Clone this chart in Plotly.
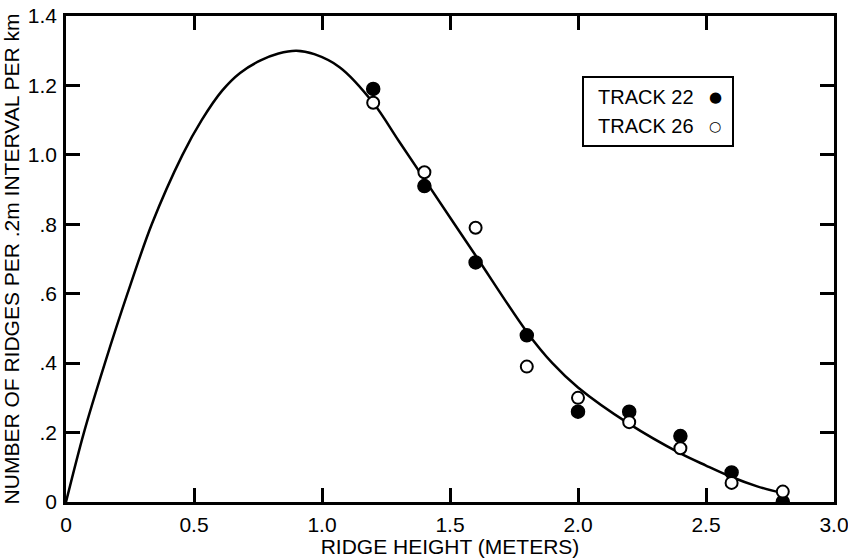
import plotly.graph_objects as go

# ---- data ----
heights = [1.2, 1.4, 1.6, 1.8, 2.0, 2.2, 2.4, 2.6, 2.8]
track22 = [1.19, 0.91, 0.69, 0.48, 0.26, 0.26, 0.19, 0.085, 0.0]
track26 = [1.15, 0.95, 0.79, 0.39, 0.30, 0.23, 0.155, 0.055, 0.03]

curve_x = [0.0, 0.07, 0.152, 0.24, 0.335, 0.455, 0.53, 0.61, 0.68, 0.76, 0.83,
           0.90, 0.97, 1.07, 1.2, 1.3, 1.4, 1.6, 1.8, 1.9, 2.0, 2.2, 2.4, 2.5,
           2.6, 2.7, 2.8]
curve_y = [0.0, 0.2, 0.4, 0.6, 0.8, 1.0, 1.10, 1.185, 1.236, 1.272, 1.292,
           1.30, 1.29, 1.252, 1.15, 1.04, 0.93, 0.71, 0.49, 0.40, 0.33, 0.225,
           0.14, 0.105, 0.072, 0.045, 0.025]

x_tickvals = [0, 0.5, 1.0, 1.5, 2.0, 2.5, 3.0]
x_ticktext = ["0", "0.5", "1.0", "1.5", "2.0", "2.5", "3.0"]
y_tickvals = [0, 0.2, 0.4, 0.6, 0.8, 1.0, 1.2, 1.4]
y_ticktext = ["0", ".2", ".4", ".6", ".8", "1.0", "1.2", "1.4"]

legend_names = ["TRACK 22", "TRACK 26"]

FONT = "Liberation Sans, Arial, sans-serif"
FS = 21

fig = go.Figure()
fig.add_trace(go.Scatter(x=curve_x, y=curve_y, mode="lines",
                         line=dict(color="black", width=2.5, shape="spline", smoothing=0.9),
                         showlegend=False, hoverinfo="skip"))
fig.add_trace(go.Scatter(x=heights, y=track22, mode="markers", name=legend_names[0],
                         marker=dict(symbol="circle", size=13, color="black",
                                     line=dict(color="black", width=1.5)),
                         showlegend=False))
fig.add_trace(go.Scatter(x=heights, y=track26, mode="markers", name=legend_names[1],
                         marker=dict(symbol="circle", size=12, color="white",
                                     line=dict(color="black", width=2)),
                         showlegend=False))

axis_common = dict(showline=True, linecolor="black", linewidth=2.5, mirror="ticks",
                   ticks="inside", ticklen=14, tickwidth=2.5, tickcolor="black",
                   showgrid=False, zeroline=False, automargin=False,
                   ticklabeloverflow="allow",
                   tickfont=dict(family=FONT, size=FS, color="black"))

fig.update_xaxes(range=[0, 3.0], tickvals=x_tickvals, ticktext=x_ticktext,
                 title=dict(text="RIDGE HEIGHT (METERS)", standoff=2,
                            font=dict(family=FONT, size=FS, color="black")),
                 ticklabelstandoff=2, **axis_common)
fig.update_yaxes(range=[0, 1.4], tickvals=y_tickvals, ticktext=y_ticktext,
                 title=dict(text="NUMBER OF RIDGES PER .2m INTERVAL PER km", standoff=4,
                            font=dict(family=FONT, size=FS, color="black")),
                 ticklabelstandoff=2, **axis_common)

# legend box (text followed by symbol, as in the reference)
fig.add_shape(type="rect", xref="paper", yref="paper",
              x0=(583 - 66) / 768, x1=(733 - 66) / 768,
              y0=(502 - 146) / 486, y1=(502 - 77) / 486,
              line=dict(color="black", width=2), fillcolor="white", layer="above")
for i, (name, sym, yy) in enumerate([(legend_names[0], "●", 97), (legend_names[1], "○", 126)]):
    fig.add_annotation(xref="paper", yref="paper", x=(596 - 66) / 768, y=(502 - yy) / 486,
                       xanchor="left", yanchor="middle", text=name, showarrow=False,
                       font=dict(family=FONT, size=20, color="black"))
    fig.add_annotation(xref="paper", yref="paper", x=(715 - 66) / 768, y=(502 - yy) / 486,
                       xanchor="center", yanchor="middle", text=sym, showarrow=False,
                       font=dict(family="DejaVu Sans", size=15 if i == 0 else 14, color="black"))

fig.update_layout(width=848, height=558, margin=dict(l=66, r=14, t=16, b=56, autoexpand=False),
                  plot_bgcolor="white", paper_bgcolor="white",
                  font=dict(family=FONT, color="black"), showlegend=False)

fig.write_html("out.html")
